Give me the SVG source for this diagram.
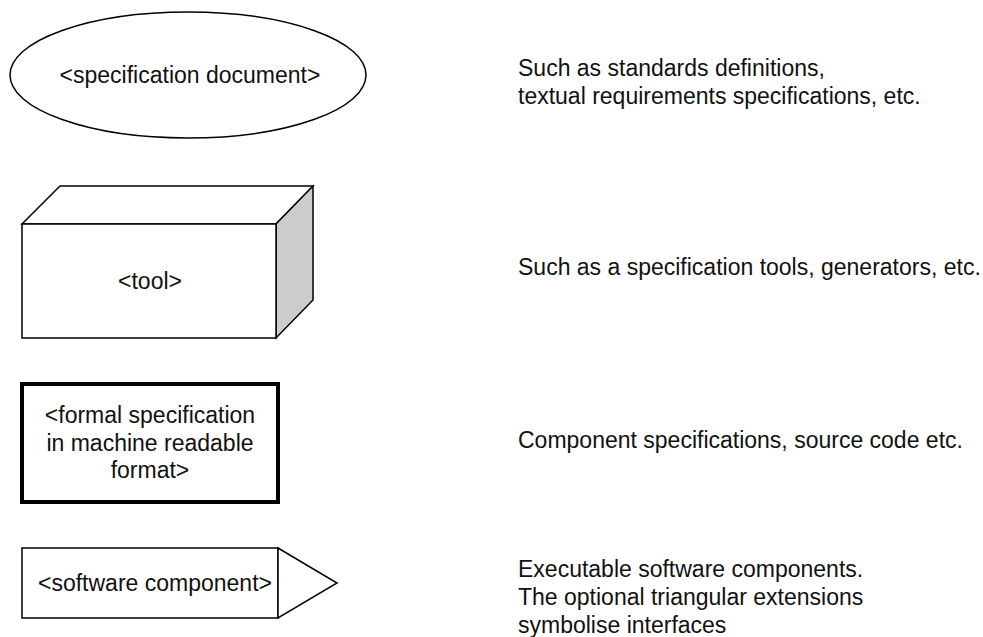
<svg xmlns="http://www.w3.org/2000/svg" width="983" height="637" viewBox="0 0 983 637">
  <style>
    .shape { fill: #ffffff; stroke: #000000; stroke-width: 1.5; stroke-linejoin: miter; }
    .thick { fill: #ffffff; stroke: #000000; stroke-width: 4; }
    .side { fill: #cccccc; stroke: #000000; stroke-width: 1.5; }
    .label { font-family: "Liberation Sans", Arial, sans-serif; font-size: 23px; fill: #111111; }
    .mid { text-anchor: middle; }
  </style>
  <rect width="983" height="637" fill="#ffffff"/>

  <!-- specification document -->
  <g id="spec-document">
    <ellipse class="shape" cx="188" cy="75" rx="178" ry="63"/>
    <text class="label mid" x="190" y="83">&lt;specification document&gt;</text>
  </g>

  <!-- tool: 3D box -->
  <g id="tool">
    <polygon class="shape" points="22,224 60,186 313,186 276,224"/>
    <polygon class="side" points="276,224 313,186 313,300 276,338"/>
    <rect class="shape" x="22" y="224" width="254" height="114"/>
    <text class="label mid" x="150" y="289">&lt;tool&gt;</text>
  </g>

  <!-- formal specification -->
  <g id="formal-spec">
    <rect class="thick" x="22" y="384" width="256" height="118"/>
    <text class="label mid" x="150" y="423">&lt;formal specification</text>
    <text class="label mid" x="150" y="451">in machine readable</text>
    <text class="label mid" x="150" y="478">format&gt;</text>
  </g>

  <!-- software component with interface triangle -->
  <g id="software-component">
    <rect class="shape" x="22" y="548" width="256" height="70"/>
    <polygon class="shape" points="278,548 337,583 278,618"/>
    <text class="label mid" x="155" y="591">&lt;software component&gt;</text>
  </g>

  <!-- descriptions -->
  <g id="descriptions">
    <text class="label" x="518" y="76">Such as standards definitions,</text>
    <text class="label" x="518" y="104">textual requirements specifications, etc.</text>
    <text class="label" x="518" y="275">Such as a specification tools, generators, etc.</text>
    <text class="label" x="518" y="448">Component specifications, source code etc.</text>
    <text class="label" x="518" y="577">Executable software components.</text>
    <text class="label" x="518" y="605">The optional triangular extensions</text>
    <text class="label" x="518" y="633">symbolise interfaces</text>
  </g>
</svg>
